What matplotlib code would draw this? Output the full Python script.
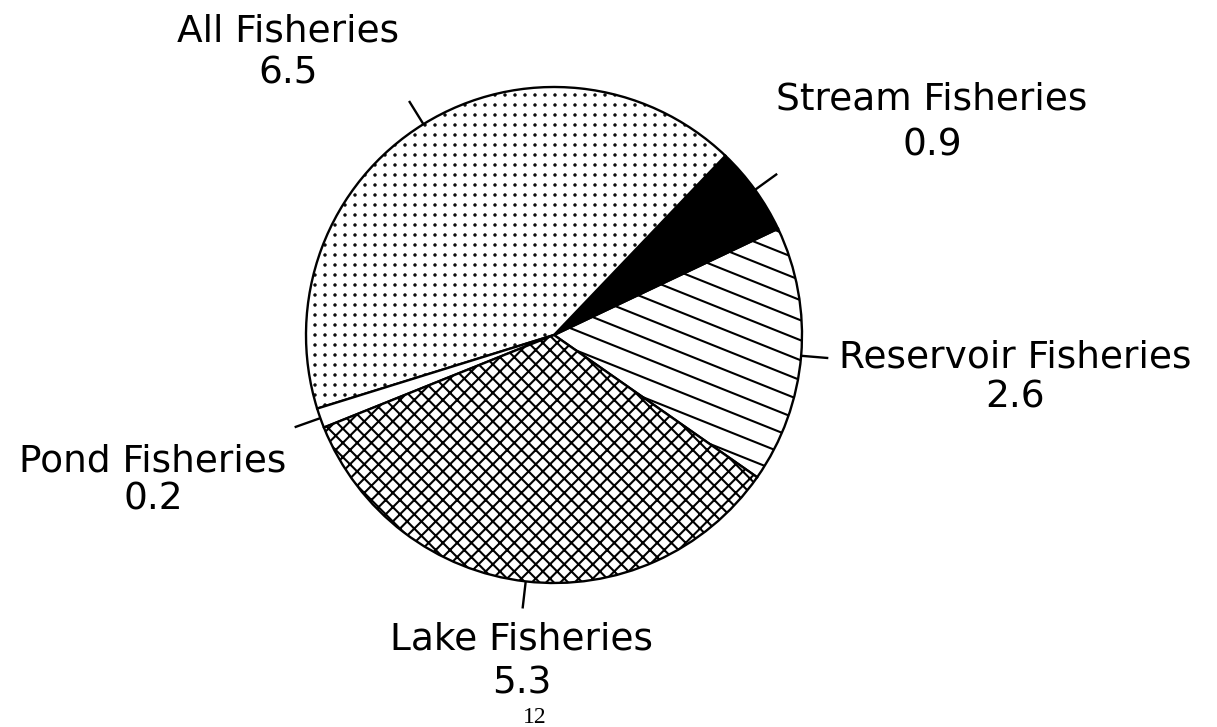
import warnings
warnings.filterwarnings("ignore")
import numpy as np
import matplotlib
matplotlib.use("Agg")
import matplotlib.pyplot as plt
import matplotlib.hatch as mhatch
from matplotlib.path import Path

# ---- data ----
categories = ["Reservoir Fisheries", "Stream Fisheries", "All Fisheries",
              "Pond Fisheries", "Lake Fisheries"]
values = [2.6, 0.9, 6.5, 0.2, 5.3]
value_labels = ["2.6", "0.9", "6.5", "0.2", "5.3"]
page_number = "12"

# ---- styles ----
face_colors = ["white", "black", "white", "white", "white"]
hatches = ["~", None, ":", None, "#"]


# ---- custom hatch patterns (square dot grid, shallow slant lines, fine crosshatch)
class GridDots(mhatch.HatchPatternBase):
    def __init__(self, hatch, density):
        self.n = 10 * hatch.count(':')
        circ = Path.unit_circle()
        self.cv, self.cc = circ.vertices, circ.codes
        self.num_vertices = self.n * self.n * len(self.cv)

    def set_vertices_and_codes(self, vertices, codes):
        n = self.n
        vs, cs = [], []
        for i in range(n):
            for j in range(n):
                vs.append(self.cv * 0.0065 + [(i + 0.5) / n, (j + 0.5) / n])
                cs.append(self.cc)
        np.concatenate(vs, out=vertices)
        np.concatenate(cs, out=codes)


class SlantLines(mhatch.HatchPatternBase):
    spec = {'~': [(-0.4, 5)], '#': [(1.0, 7), (-1.0, 7)]}

    def __init__(self, hatch, density):
        self.segs = []
        for ch, specs in self.spec.items():
            if ch in hatch:
                for s, n in specs:
                    lo = int(np.floor(min(0, -s) * n)) - 1
                    hi = int(np.ceil(max(1, 1 - s) * n)) + 1
                    for k in range(lo, hi + 1):
                        c = k / n
                        self.segs.append(((0.0, c), (1.0, c + s)))
        self.num_vertices = 2 * len(self.segs)

    def set_vertices_and_codes(self, vertices, codes):
        for i, (a, b) in enumerate(self.segs):
            vertices[2 * i] = a
            vertices[2 * i + 1] = b
            codes[2 * i] = Path.MOVETO
            codes[2 * i + 1] = Path.LINETO


mhatch._hatch_types.append(GridDots)
mhatch._hatch_types.append(SlantLines)

plt.rcParams['hatch.linewidth'] = 1.5
plt.rcParams['font.family'] = ['DejaVu Sans']

W, H = 1217, 727
fig = plt.figure(figsize=(W / 100, H / 100), dpi=100)
ax = fig.add_axes([0, 0, 1, 1])

cx, cy, R = 554, H - 335, 248
wedges, _ = ax.pie(values, colors=face_colors, startangle=-35, counterclock=True,
                   radius=R, center=(cx, cy),
                   wedgeprops=dict(edgecolor='black', linewidth=1.7))
for w, h in zip(wedges, hatches):
    if h:
        w.set_hatch(h)

# leader ticks
for w in wedges:
    mid = np.deg2rad((w.theta1 + w.theta2) / 2)
    ax.plot([cx + R * np.cos(mid), cx + 1.11 * R * np.cos(mid)],
            [cy + R * np.sin(mid), cy + 1.11 * R * np.sin(mid)],
            color='black', lw=1.7, solid_capstyle='butt')

# label layout: (x center, name baseline, value baseline) in pixels from top
label_pos = {
    "Reservoir Fisheries": (1015, 367, 408),
    "Stream Fisheries": (932, 109, 155),
    "All Fisheries": (288, 41, 83),
    "Pond Fisheries": (153, 472, 510),
    "Lake Fisheries": (522, 650, 694),
}
for name, val in zip(categories, value_labels):
    x, y1, y2 = label_pos[name]
    ax.text(x, H - y1, name, ha='center', va='baseline', fontsize=27, color='black')
    ax.text(x, H - y2, val, ha='center', va='baseline', fontsize=27, color='black')

ax.text(535, H - 723, page_number, ha='center', va='baseline', fontsize=17,
        family=['Liberation Serif'], color='black')

ax.set_xlim(0, W)
ax.set_ylim(0, H)
ax.set_aspect('auto')
ax.axis('off')

fig.savefig("out.png", dpi=100, facecolor='white')
